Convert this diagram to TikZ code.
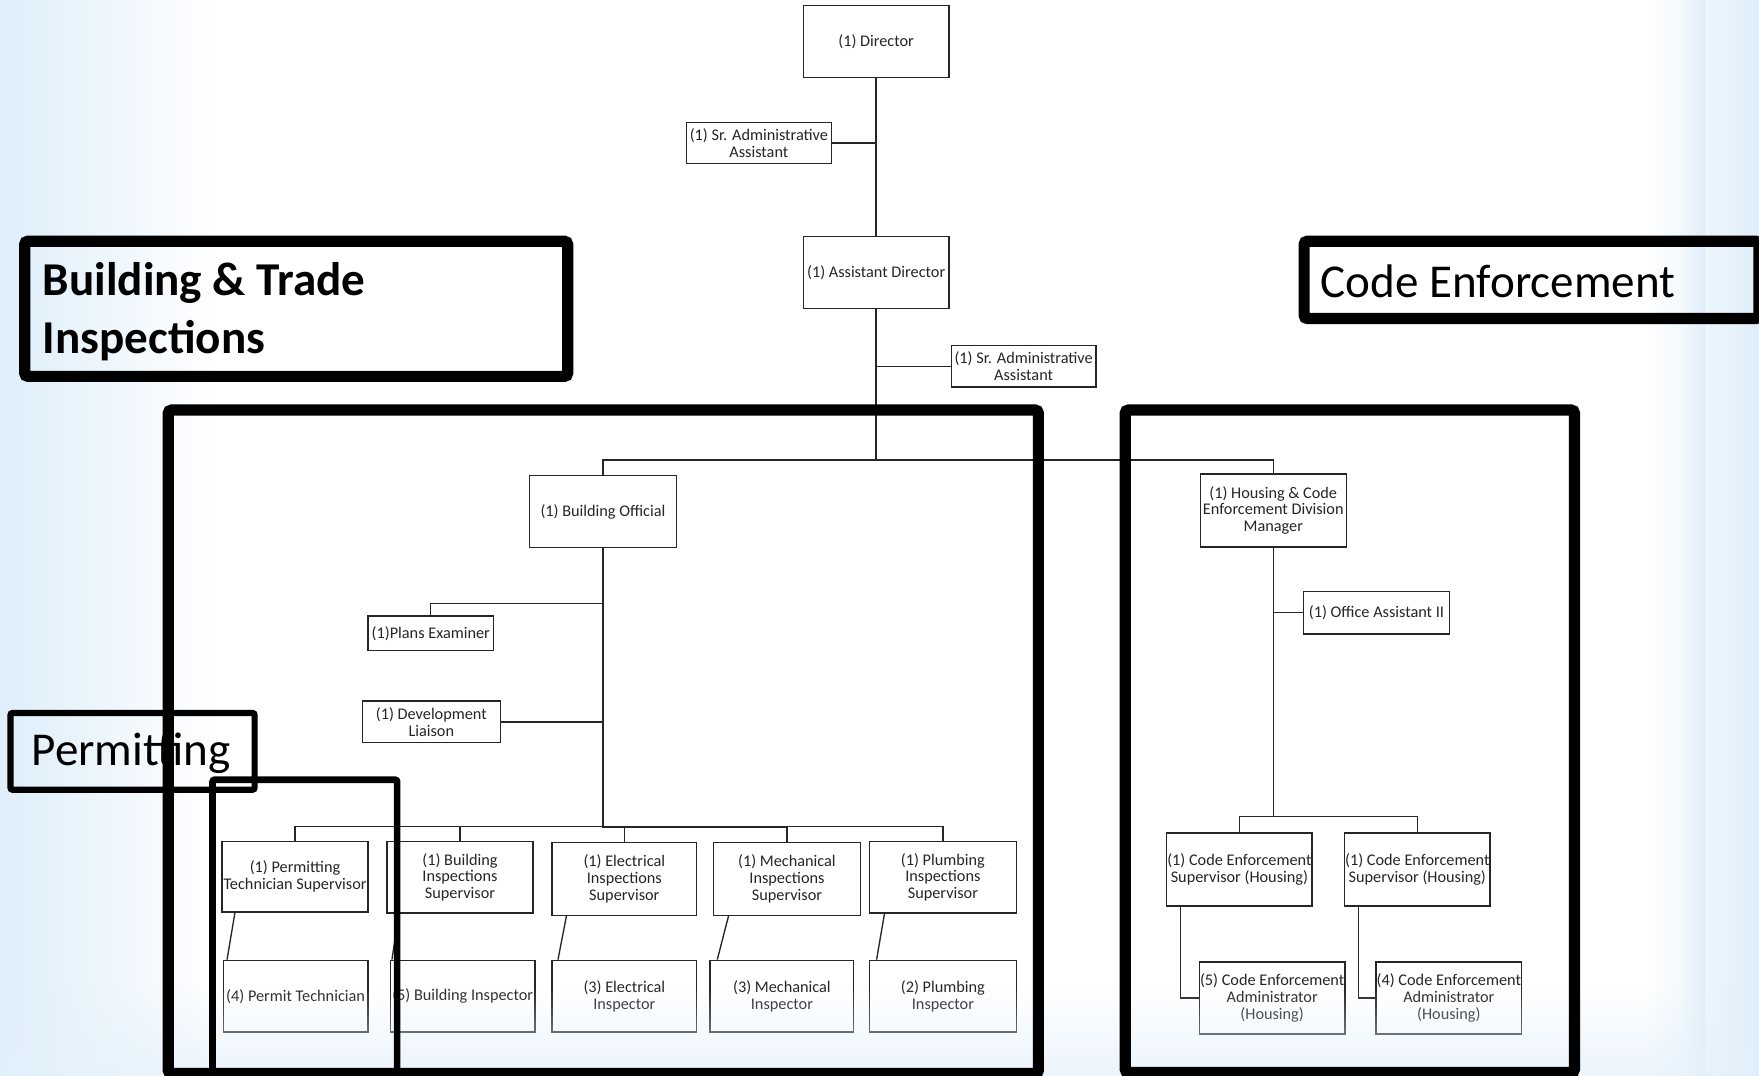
\documentclass[tikz,border=0pt]{standalone}
\usepackage{fontspec}
\setmainfont{Carlito}
\usetikzlibrary{calc,fadings}
\definecolor{bgblue}{RGB}{222,238,250}
\definecolor{haze}{RGB}{228,241,251}
\definecolor{ink}{RGB}{38,38,38}

\tikzset{
  role/.style={draw=ink, line width=1.2pt, fill=white, align=center, inner sep=0pt,
    text=ink, font=\fontsize{14.5}{15}\selectfont},
  link/.style={draw=ink, line width=1.2pt},
  trunk/.style={draw=ink, line width=1.9pt},
  frame/.style={draw=black, line width=10pt, rounded corners=3pt},
  thinframe/.style={draw=black, line width=6pt, rounded corners=2pt},
  title/.style={anchor=base west, inner sep=0pt, text=black, font=\fontsize{42}{52}\selectfont},
}

\begin{document}
\begin{tikzpicture}[x=1pt, y=-1pt]
% page and background
\useasboundingbox (0,0) rectangle (1568,959);
\fill[white] (0,0) rectangle (1568,959);
\shade[left color=bgblue, right color=white] (0,0) rectangle (195,959);
\shade[left color=white, right color=bgblue] (1465,0) rectangle (1568,959);
\shade[left color=bgblue!40, right color=bgblue] (1500,0) rectangle (1520,959);

% ---- boxes ----
\node[role, minimum width=130pt, minimum height=64pt] (dir)  at (781,37)    {(1) Director};
\node[role, minimum width=129pt, minimum height=37pt] (sra1) at (676.5,127.5) {(1) Sr. Administrative\\Assistant};
\node[role, minimum width=130pt, minimum height=64pt] (adir) at (781,243)   {(1) Assistant Director};
\node[role, minimum width=129pt, minimum height=37pt] (sra2) at (912.5,326.5) {(1) Sr. Administrative\\Assistant};

\node[role, minimum width=131pt, minimum height=64pt] (bo)   at (537.5,456) {(1) Building Official};
\node[role, minimum width=112pt, minimum height=31pt] (pe)   at (384,564.5) {(1)Plans Examiner};
\node[role, minimum width=123pt, minimum height=37pt] (dl)   at (384.5,643.5) {(1) Development\\Liaison};

\node[role, minimum width=130pt, minimum height=63pt] (pts)  at (263,781.5) {(1) Permitting\\Technician Supervisor};
\node[role, minimum width=130pt, minimum height=64pt] (bis)  at (410,782)   {(1) Building\\Inspections\\Supervisor};
\node[role, minimum width=129pt, minimum height=65pt] (eis)  at (556.5,783.5) {(1) Electrical\\Inspections\\Supervisor};
\node[role, minimum width=131pt, minimum height=65pt] (mis)  at (701.5,783.5) {(1) Mechanical\\Inspections\\Supervisor};
\node[role, minimum width=131pt, minimum height=64pt] (pis)  at (840.5,782) {(1) Plumbing\\Inspections\\Supervisor};

\node[role, minimum width=129pt, minimum height=64pt] (pt)   at (263.5,888) {(4) Permit Technician};
\node[role, minimum width=129pt, minimum height=64pt] (bi)   at (412.5,888) {(5) Building Inspector};
\node[role, minimum width=129pt, minimum height=64pt] (ei)   at (556.5,888) {(3) Electrical\\Inspector};
\node[role, minimum width=128pt, minimum height=64pt] (mi)   at (697,888)   {(3) Mechanical\\Inspector};
\node[role, minimum width=131pt, minimum height=64pt] (pi)   at (840.5,888) {(2) Plumbing\\Inspector};

\node[role, minimum width=130pt, minimum height=65pt] (hcm)  at (1135,455)  {(1) Housing \& Code\\Enforcement Division\\Manager};
\node[role, minimum width=130pt, minimum height=38pt] (oa)   at (1227,546)  {(1) Office Assistant II};
\node[role, minimum width=129.5pt, minimum height=65pt] (ces1) at (1104.8,775) {(1) Code Enforcement\\Supervisor (Housing)};
\node[role, minimum width=129.5pt, minimum height=65pt] (ces2) at (1263.4,775) {(1) Code Enforcement\\Supervisor (Housing)};
\node[role, minimum width=130pt, minimum height=64pt] (cea1) at (1134,889.6) {(5) Code Enforcement\\Administrator\\(Housing)};
\node[role, minimum width=130pt, minimum height=64pt] (cea2) at (1291.5,889.6) {(4) Code Enforcement\\Administrator\\(Housing)};

% ---- junction points ----
\coordinate (topbar) at (781,410);
\coordinate (pejoin) at (537.5,538);
\coordinate (lowbar) at (537.5,737);
\coordinate (cebar)  at (1135,728);

% ---- connectors ----
\draw[trunk] (dir.south) -- (dir.south |- sra1.east);
\draw[link] (dir.south |- sra1.east) -- (adir.north);
\draw[link] (sra1.east) -- (sra1.east -| dir.south);
\draw[trunk] (adir.south) -- (topbar);
\draw[link] (sra2.west) -- (sra2.west -| adir.south);
\draw[link] (bo.north) |- (topbar) -| (hcm.north);

\draw[trunk] (bo.south) -- (lowbar) -- (lowbar -| mis.north);
\draw[link] (pe.north) |- (pejoin);
\draw[link] (dl.east) -- (dl.east -| bo.south);
\draw[link] (pts.north) |- (lowbar) -| (pis.north);
\draw[link] (bis.north) -- (bis.north |- lowbar);
\draw[link] (eis.north) -- (eis.north |- lowbar);
\draw[link] (mis.north) -- (mis.north |- lowbar);

\draw[link] ($(pts.south west)+(12,0)$) -- ($(pt.north west)+(4,0)$);
\draw[link] ($(bis.south west)+(11,0)$) -- ($(bi.north west)+(2,0)$);
\draw[link] ($(eis.south west)+(13.5,0)$) -- ($(ei.north west)+(6,0)$);
\draw[link] ($(mis.south west)+(14,0)$) -- ($(mi.north west)+(7,0)$);
\draw[link] ($(pis.south west)+(14,0)$) -- ($(pi.north west)+(7,0)$);

\draw[link] (hcm.south) -- (cebar);
\draw[link] (oa.west) -- (oa.west -| hcm.south);
\draw[link] (ces1.north) |- (cebar) -| (ces2.north);
\draw[link] ($(ces1.south west)+(12.8,0)$) |- (cea1.west);
\draw[link] ($(ces2.south west)+(13,0)$) |- (cea2.west);

% soft haze along the bottom edge
\fill[haze, fill opacity=0.85, path fading=north] (0,880) rectangle (1568,975);

% ---- section labels and frames ----
\draw[black, line width=5.5pt, rounded corners=2pt] (9.3,635.5) rectangle (227,704);
\node[title] (permlabel) at (28,682) {Permitting};

\draw[frame] (150,365.5) rectangle (925.6,957);
\draw[frame] (1003,365.5) rectangle (1403.5,956);
\draw[thinframe] (189.5,695) rectangle (354,956);

\draw[frame] (22,215) rectangle (506,335.5);
\node[title, font=\bfseries\fontsize{42}{52}\selectfont] (btlabelA) at (38,263) {Building \& Trade};
\node[title, font=\bfseries\fontsize{42}{52}\selectfont] (btlabelB) at (38,315) {Inspections};

\draw[frame] (1162.5,215) rectangle (1568,284);
\node[title] (celabel) at (1177,265.5) {Code Enforcement};
\end{tikzpicture}
\end{document}
